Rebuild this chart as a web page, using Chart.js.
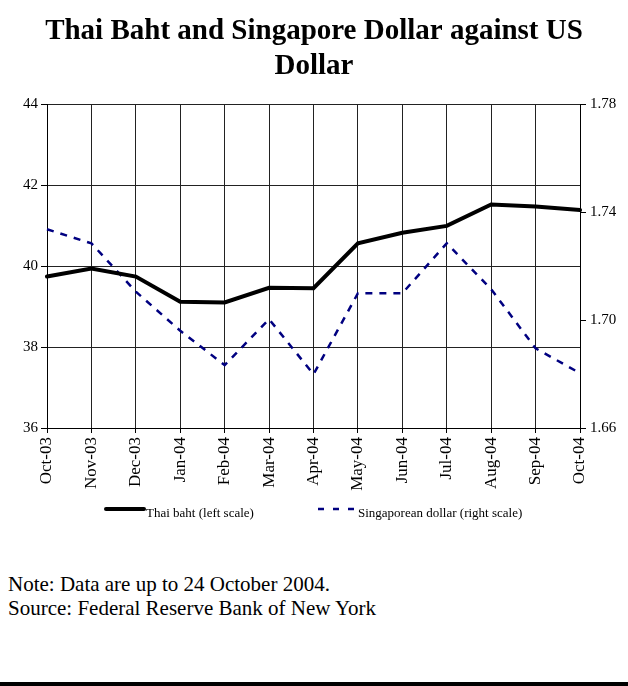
<!DOCTYPE html>
<html>
<head>
<meta charset="utf-8">
<script src="https://cdn.jsdelivr.net/npm/chart.js@4"></script>
<style>
  html, body { margin: 0; padding: 0; background: #fff; }
  body { width: 628px; height: 686px; position: relative; overflow: hidden; font-family: "Liberation Serif", "Times New Roman", serif; }
  #wrap { position: absolute; left: 0; top: 0; width: 628px; height: 545px; }
  #notes { position: absolute; left: 8px; top: 572px; font-size: 21px; line-height: 24px; color: #000; }
  #bar { position: absolute; left: 0; top: 682px; width: 628px; height: 4px; background: #000; }
</style>
</head>
<body>
<div id="wrap"><canvas id="c"></canvas></div>
<div id="notes">Note: Data are up to 24 October 2004.<br>Source: Federal Reserve Bank of New York</div>
<div id="bar"></div>
<script>
const titleLines = ["Thai Baht and Singapore Dollar against US", "Dollar"];
const categories = ["Oct-03","Nov-03","Dec-03","Jan-04","Feb-04","Mar-04","Apr-04","May-04","Jun-04","Jul-04","Aug-04","Sep-04","Oct-04"];
const thaiBaht = [39.74, 39.94, 39.74, 39.12, 39.10, 39.46, 39.45, 40.56, 40.82, 40.99, 41.52, 41.47, 41.38];
const singaporeDollar = [1.7336, 1.7284, 1.7105, 1.6960, 1.6833, 1.7003, 1.6799, 1.7099, 1.7099, 1.7284, 1.7114, 1.6895, 1.6803];
const seriesNames = ["Thai baht (left scale)", "Singaporean dollar (right scale)"];
const leftTicks = [36, 38, 40, 42, 44];
const rightTicks = [1.66, 1.70, 1.74, 1.78];

const serif = "'Liberation Serif', 'Times New Roman', serif";

// Custom legend drawn from the chart's datasets
const legendLayout = [
  { x0: 106, x1: 144, textX: 146, dash: [] },
  { x0: 318, x1: 354, textX: 358, dash: [6, 9] }
];
const customLegend = {
  id: 'customLegend',
  afterDraw(chart) {
    const ctx = chart.ctx;
    const lineY = 509, textY = 514;
    chart.data.datasets.forEach((ds, i) => {
      const L = legendLayout[i];
      ctx.save();
      ctx.strokeStyle = ds.borderColor;
      ctx.lineWidth = ds.borderWidth;
      ctx.lineCap = i === 0 ? 'round' : 'butt';
      ctx.setLineDash(L.dash);
      ctx.beginPath();
      ctx.moveTo(L.x0, lineY);
      ctx.lineTo(L.x1, lineY);
      ctx.stroke();
      ctx.setLineDash([]);
      ctx.fillStyle = '#000';
      ctx.font = "13px " + serif;
      ctx.textBaseline = 'middle';
      ctx.textAlign = 'left';
      ctx.fillText(ds.label, L.textX, textY);
      ctx.restore();
    });
  }
};

new Chart(document.getElementById('c'), {
  type: 'line',
  data: {
    labels: categories,
    datasets: [
      {
        label: seriesNames[0],
        data: thaiBaht,
        yAxisID: 'y',
        borderColor: '#000000',
        backgroundColor: '#000000',
        borderWidth: 4,
        pointRadius: 0,
        tension: 0,
        borderCapStyle: 'round'
      },
      {
        label: seriesNames[1],
        data: singaporeDollar,
        yAxisID: 'y2',
        borderColor: '#000080',
        backgroundColor: '#000080',
        borderWidth: 2.5,
        borderDash: [7, 7],
        pointRadius: 0,
        tension: 0
      }
    ]
  },
  plugins: [customLegend],
  options: {
    responsive: true,
    maintainAspectRatio: false,
    animation: false,
    layout: { padding: { left: 0, right: 0, top: 0, bottom: 49 } },
    plugins: {
      title: {
        display: true,
        text: titleLines,
        color: '#000',
        font: { family: serif, size: 29, weight: 'bold', lineHeight: 1.207 },
        padding: { top: 14.5, bottom: 19.5 }
      },
      legend: { display: false },
      tooltip: { enabled: false }
    },
    scales: {
      x: {
        type: 'category',
        offset: false,
        grid: { color: '#222', lineWidth: 1, drawTicks: true, tickLength: 5, tickColor: '#000' },
        border: { color: '#000', width: 1 },
        ticks: {
          color: '#000',
          font: { family: serif, size: 17 },
          maxRotation: 90,
          minRotation: 90,
          autoSkip: false,
          padding: 4
        },
        afterFit: (s) => { s.height = 68; }
      },
      y: {
        position: 'left',
        min: 36,
        max: 44,
        afterBuildTicks: (s) => { s.ticks = leftTicks.map(v => ({ value: v })); },
        grid: { color: '#222', lineWidth: 1, tickLength: 6, tickColor: '#000' },
        border: { color: '#000', width: 1 },
        ticks: {
          color: '#000',
          font: { family: serif, size: 15 },
          padding: 3,
          callback: (v) => String(v)
        },
        afterFit: (s) => { s.width = 47; }
      },
      y2: {
        position: 'right',
        min: 1.66,
        max: 1.78,
        afterBuildTicks: (s) => { s.ticks = rightTicks.map(v => ({ value: v })); },
        grid: { drawOnChartArea: false, drawTicks: true, tickLength: 6, tickColor: '#000' },
        border: { color: '#000', width: 1 },
        ticks: {
          color: '#000',
          font: { family: serif, size: 15 },
          padding: 4,
          callback: (v) => Number(v).toFixed(2)
        },
        afterFit: (s) => { s.width = 48; }
      }
    }
  }
});
</script>
</body>
</html>
